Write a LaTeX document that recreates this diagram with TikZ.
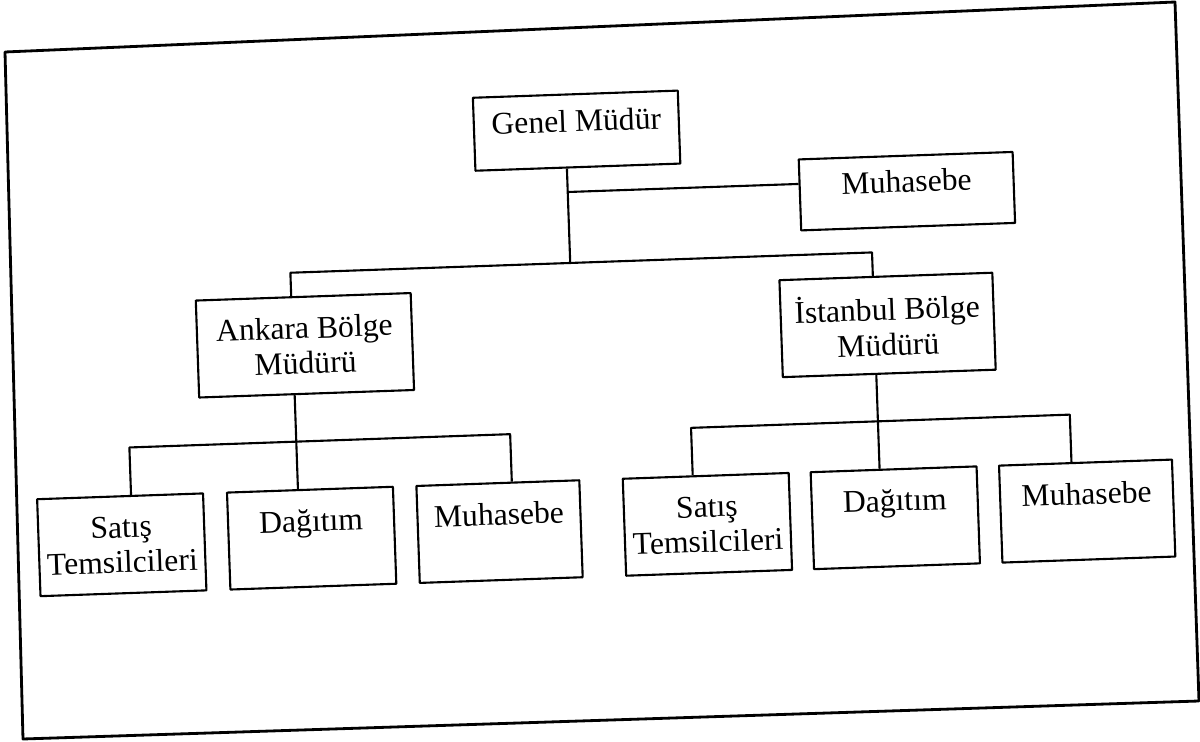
\documentclass[tikz,border=0pt]{standalone}
\usepackage{fontspec}
\setmainfont{Liberation Serif}
\begin{document}
\begin{tikzpicture}[line join=round,
	box/.style={draw, line width=0.6pt, align=center, inner sep=0pt, font=\fontsize{9}{10}\selectfont},
	head/.style={box, text depth=0.2cm},
	region/.style={box, minimum width=2.15cm, minimum height=0.97cm},
	unit/.style={box, minimum width=1.66cm, minimum height=0.97cm}]
		\useasboundingbox (0,0) rectangle (12,-7.42);
		
		% Khung ngoài
		\draw[line width=0.8pt] (0.05,-0.52) -- (11.75,-0.02) -- (11.99,-7.01) -- (0.23,-7.39) -- cycle;
		
		\begin{scope}[transform canvas={shift={(6,-3.71)}, rotate=2}]
		% Các ô
		\node[head, minimum width=2.05cm, minimum height=0.73cm] (genel) at (-0.15,2.41) {Genel Müdür};
		\node[head, minimum width=2.14cm, minimum height=0.71cm] (muh) at (3.13,1.69) {Muhasebe};
		\node[region] (ank) at (-2.94,0.36) {Ankara Bölge\\Müdürü};
		\node[region, minimum width=2.13cm] (ist) at (2.89,0.36) {İstanbul Bölge\\Müdürü};
		
		\node[unit] (ansat) at (-4.84,-1.57) {Satış\\Temsilcileri};
		\node[unit] (andag) at (-2.94,-1.57) {Dağıtım\\\mbox{}};
		\node[unit, minimum width=1.63cm] (anmuh) at (-1.06,-1.57) {Muhasebe\\\mbox{}};
		\node[unit] (issat) at (1.02,-1.57) {Satış\\Temsilcileri};
		\node[unit] (isdag) at (2.90,-1.57) {Dağıtım\\\mbox{}};
		\node[unit, minimum width=1.73cm] (ismuh) at (4.82,-1.57) {Muhasebe\\\mbox{}};
		
		% Các điểm nối
		\coordinate (g) at (-0.26,1.09);
		\coordinate (gb) at (-0.26,1.80);
		\coordinate (ja) at (-3.06,1.09);
		\coordinate (ji) at (2.76,1.09);
		\coordinate (kal) at (-4.73,-0.60);
		\coordinate (kar) at (-0.92,-0.60);
		\coordinate (kil) at (0.89,-0.60);
		\coordinate (kir) at (4.68,-0.60);
		
		% Các đường nối
		\draw[line width=0.6pt] (genel.south -| g) -- (g);
		\draw[line width=0.6pt] (gb) -- (gb -| muh.west);
		\draw[line width=0.6pt] (ank.north -| ja) -- (ja) -- (ji) -- (ist.north -| ji);
		\draw[line width=0.6pt] (ank.south -| ja) -- (andag.north -| ja);
		\draw[line width=0.6pt] (ist.south -| ji) -- (isdag.north -| ji);
		\draw[line width=0.6pt] (ansat.north -| kal) -- (kal) -- (kar) -- (anmuh.north -| kar);
		\draw[line width=0.6pt] (issat.north -| kil) -- (kil) -- (kir) -- (ismuh.north -| kir);
		\end{scope}
\end{tikzpicture}
\end{document}
